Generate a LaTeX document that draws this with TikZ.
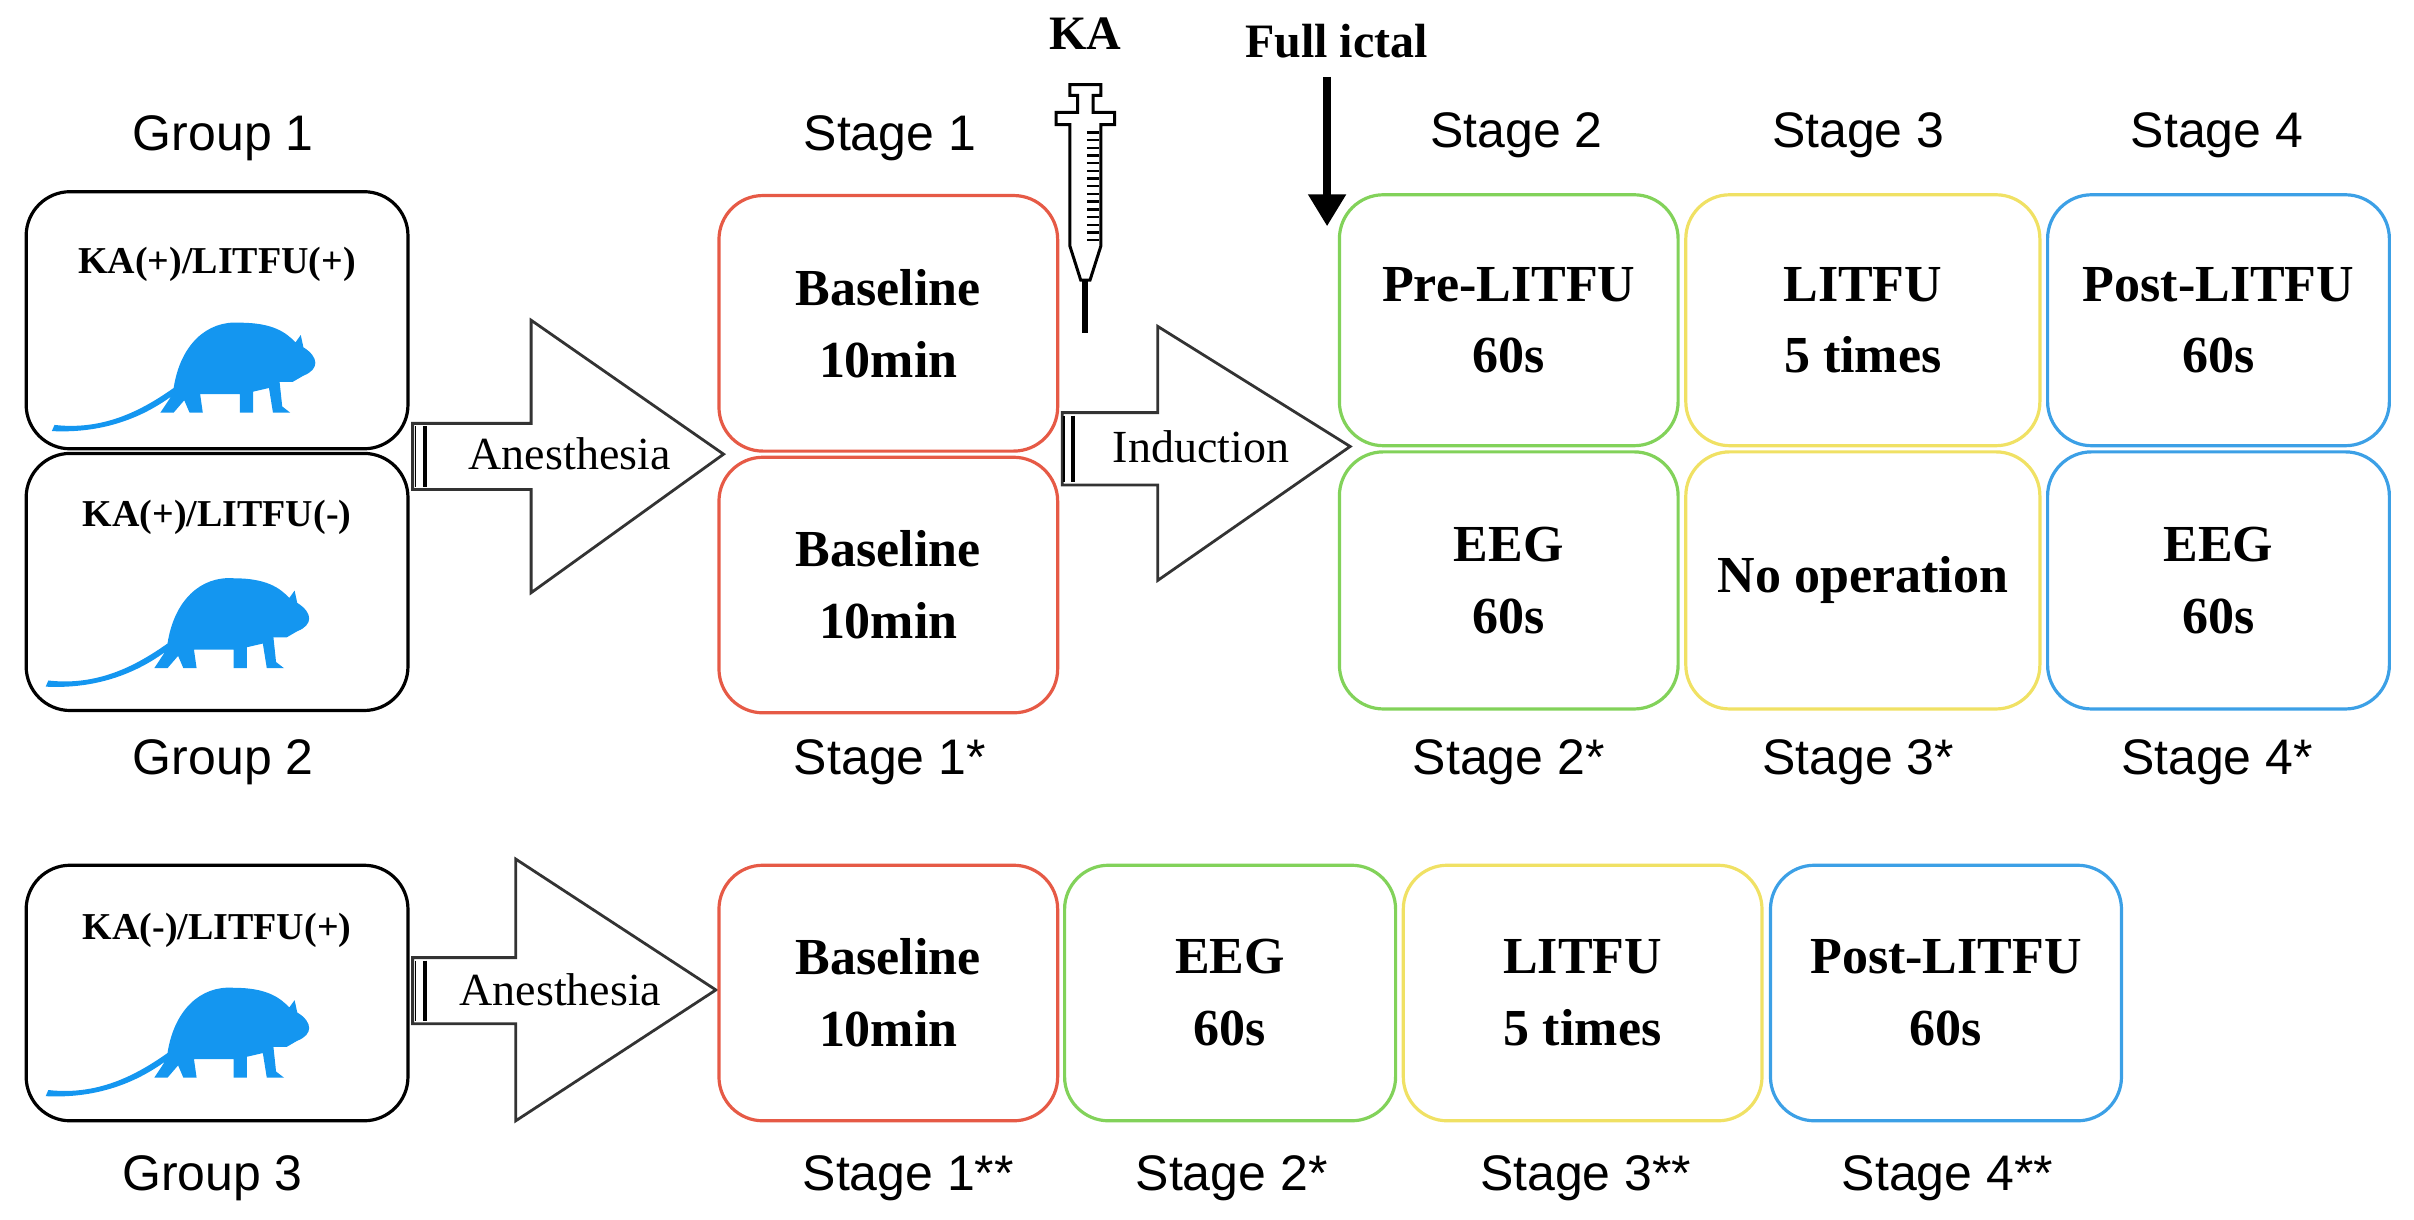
\documentclass[tikz,border=0pt]{standalone}
\usepackage{fontspec}
\usetikzlibrary{arrows.meta}
\setmainfont{Liberation Serif}
\newfontfamily\sansf{Liberation Sans}
\begin{document}
\begin{tikzpicture}[x=0.77pt,y=-0.77pt,
  box/.style={draw,rounded corners=22pt,line width=1.6pt,align=center,font=\bfseries\fontsize{26}{30}\selectfont,inner sep=0pt},
  lab/.style={font=\sansf\fontsize{25}{30}\selectfont},
  fat/.style={draw=black!80,line width=1.4pt,fill=white}]
\useasboundingbox (0,0) rectangle (1568,792);
\definecolor{rc}{RGB}{230,90,70}\definecolor{gc}{RGB}{130,210,90}
\definecolor{yc}{RGB}{240,225,100}\definecolor{bc}{RGB}{60,160,230}
\definecolor{ratc}{RGB}{20,150,240}
\tikzset{ratshape/.pic={
 \fill[ratc] (-110,55) .. controls (-70,60) and (-40,40) .. (-20,25)
  .. controls (-15,-10) and (5,-30) .. (30,-28) .. controls (55,-28) and (65,-20) .. (72,-12)
  -- (76,-18) -- (78,-8) .. controls (90,0) and (90,10) .. (78,15)
  -- (70,20) -- (60,20) -- (62,40) -- (68,45) -- (55,45) -- (52,25) -- (40,28) -- (40,45) -- (30,45) -- (30,30) -- (0,30) -- (2,45) -- (-8,45) -- (-12,35)
  -- (-20,45) -- (-30,45) -- (-22,32) .. controls (-45,50) and (-75,62) .. (-112,60) -- cycle;}}
% group boxes
\node[box,minimum width=248*0.77pt,minimum height=167*0.77pt] (g1) at (141,208) {};
\node[box,minimum width=248*0.77pt,minimum height=167*0.77pt] (g2) at (141,378) {};
\node[box,minimum width=248*0.77pt,minimum height=166*0.77pt] (g3) at (141,645) {};
\node[font=\bfseries\fontsize{19}{22}\selectfont] (t1) at (141,172) {KA(+)/LITFU(+)};
\node[font=\bfseries\fontsize{19}{22}\selectfont] (t2) at (141,336) {KA(+)/LITFU(-)};
\node[font=\bfseries\fontsize{19}{22}\selectfont] (t3) at (141,604) {KA(-)/LITFU(+)};
\pic[xscale=0.86,yscale=0.8] at (130,232) {ratshape};
\pic[xscale=0.86,yscale=0.8] at (126,398) {ratshape};
\pic[xscale=0.86,yscale=0.8] at (126,664) {ratshape};
\node[lab] (lg1) at (145,90) {Group 1};
\node[lab] (lg2) at (145,495) {Group 2};
\node[lab] (lg3) at (138,765) {Group 3};
% arrows
\draw[fat] (268,275) -- (345,275) -- (345,208) -- (470,295) -- (345,385) -- (345,318) -- (268,318) -- cycle;
\draw[line width=1.8pt] (276,277)--(276,316); \draw[line width=0.8pt] (270,277)--(270,316);
\node[font=\fontsize{23}{26}\selectfont] (an1) at (370,295) {Anesthesia};
\draw[fat] (690,268) -- (752,268) -- (752,212) -- (877,290) -- (752,377) -- (752,315) -- (690,315) -- cycle;
\draw[line width=1.8pt] (697,270)--(697,313); \draw[line width=0.8pt] (691,270)--(691,313);
\node[font=\fontsize{23}{26}\selectfont] (ind) at (780,290) {Induction};
\draw[fat] (268,622) -- (335,622) -- (335,558) -- (465,643) -- (335,728) -- (335,665) -- (268,665) -- cycle;
\draw[line width=1.8pt] (276,624)--(276,663); \draw[line width=0.8pt] (270,624)--(270,663);
\node[font=\fontsize{23}{26}\selectfont] (an2) at (364,643) {Anesthesia};
% stage boxes
\newcommand{\stbox}[7]{\node[box,draw=#1,minimum width=#4*0.77pt,minimum height=#5*0.77pt] (#6) at (#2,#3) {#7};}
\stbox{rc}{577}{210}{220}{166}{s1a}{Baseline\\[6pt]10min}
\stbox{rc}{577}{380}{220}{166}{s1b}{Baseline\\[6pt]10min}
\stbox{gc}{980}{208}{220}{163}{s2a}{Pre-LITFU\\[6pt]60s}
\stbox{gc}{980}{377}{220}{167}{s2b}{EEG\\[6pt]60s}
\stbox{yc}{1210}{208}{230}{163}{s3a}{LITFU\\[6pt]5 times}
\stbox{yc}{1210}{377}{230}{167}{s3b}{No operation}
\stbox{bc}{1441}{208}{222}{163}{s4a}{Post-LITFU\\[6pt]60s}
\stbox{bc}{1441}{377}{222}{167}{s4b}{EEG\\[6pt]60s}
\stbox{rc}{577}{645}{220}{166}{r1}{Baseline\\[6pt]10min}
\stbox{gc}{799}{645}{215}{166}{r2}{EEG\\[6pt]60s}
\stbox{yc}{1028}{645}{233}{166}{r3}{LITFU\\[6pt]5 times}
\stbox{bc}{1264}{645}{228}{166}{r4}{Post-LITFU\\[6pt]60s}
\node[lab] (l1) at (578,90) {Stage 1};
\node[lab] (l2) at (985,88) {Stage 2};
\node[lab] (l3) at (1207,88) {Stage 3};
\node[lab] (l4) at (1440,88) {Stage 4};
\node[lab] (l1s) at (578,495) {Stage 1*};
\node[lab] (l2s) at (980,495) {Stage 2*};
\node[lab] (l3s) at (1207,495) {Stage 3*};
\node[lab] (l4s) at (1440,495) {Stage 4*};
\node[lab] (m1) at (590,765) {Stage 1**};
\node[lab] (m2) at (800,765) {Stage 2*};
\node[lab] (m3) at (1030,765) {Stage 3**};
\node[lab] (m4) at (1265,765) {Stage 4**};
% KA syringe
\node[font=\bfseries\fontsize{24}{26}\selectfont] (ka) at (705,22) {KA};
\draw[line width=1.5pt,fill=white] (695,55) -- (715,55) -- (715,62) -- (710,62) -- (710,73) -- (724,73) -- (724,81) -- (715,81) -- (715,160) -- (708,182) -- (702,182) -- (695,160) -- (695,81) -- (686,81) -- (686,73) -- (700,73) -- (700,62) -- (695,62) -- cycle;
\draw[line width=3pt] (705,182) -- (705,216);
\foreach \yy in {86,91,...,156} {\draw[line width=1.2pt] (706,\yy) -- (714,\yy);}
% full ictal
\node[font=\bfseries\fontsize{24}{26}\selectfont] (fi) at (868,27) {Full ictal};
\coordinate (fa) at (862,50); \coordinate (fb) at (862,147);
\draw[line width=4pt,-{Triangle[width=18pt,length=16pt]}] (fa) -- (fb);
\end{tikzpicture}
\end{document}
